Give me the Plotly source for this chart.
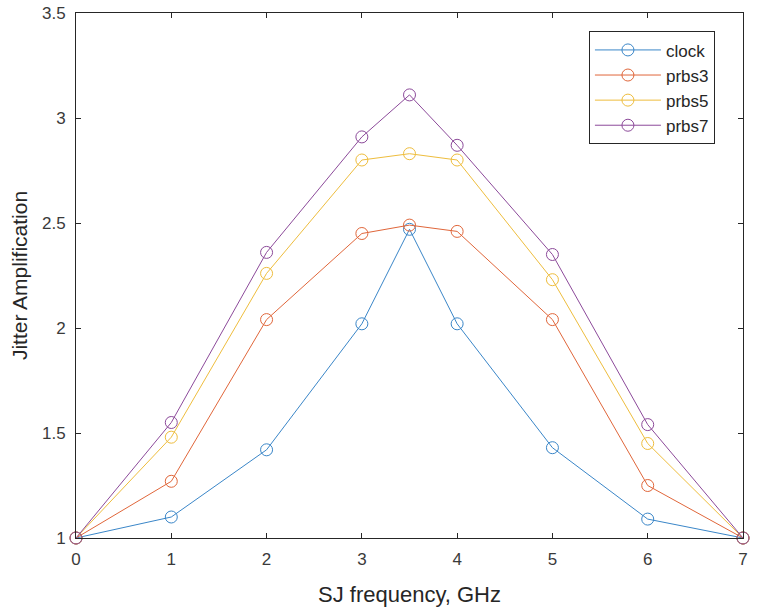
import plotly.graph_objects as go

# SJ frequency sweep (GHz) and measured jitter amplification per pattern
freq_ghz = [0, 1, 2, 3, 3.5, 4, 5, 6, 7]
clock = [1.00, 1.10, 1.42, 2.02, 2.47, 2.02, 1.43, 1.09, 1.00]
prbs3 = [1.00, 1.27, 2.04, 2.45, 2.49, 2.46, 2.04, 1.25, 1.00]
prbs5 = [1.00, 1.48, 2.26, 2.80, 2.83, 2.80, 2.23, 1.45, 1.00]
prbs7 = [1.00, 1.55, 2.36, 2.91, 3.11, 2.87, 2.35, 1.54, 1.00]

series_names = ["clock", "prbs3", "prbs5", "prbs7"]
series_values = [clock, prbs3, prbs5, prbs7]
series_colors = ["#3a86c8", "#e0663a", "#eebd3d", "#8c4a9a"]

x_ticks = [0, 1, 2, 3, 4, 5, 6, 7]
y_ticks = [1, 1.5, 2, 2.5, 3, 3.5]
y_tick_text = ["1", "1.5", "2", "2.5", "3", "3.5"]

FONT = "Liberation Sans, Arial, sans-serif"

fig = go.Figure()
for name, vals, col in zip(series_names, series_values, series_colors):
    fig.add_trace(go.Scatter(
        x=freq_ghz, y=vals, name=name, mode="lines+markers",
        line=dict(color=col, width=1),
        marker=dict(symbol="circle-open", size=12, color=col, line=dict(width=1)),
        cliponaxis=False,
    ))

axis_common = dict(
    showline=True, linecolor="#262626", linewidth=1, mirror="ticks",
    ticks="inside", ticklen=5, tickcolor="#262626",
    showgrid=False, zeroline=False, automargin=False,
    tickfont=dict(family=FONT, size=17, color="#3a3a3a"),
)

fig.update_layout(
    width=760, height=613,
    margin=dict(l=76, r=17, t=13, b=75),
    paper_bgcolor="white", plot_bgcolor="white",
    font=dict(family=FONT, color="#262626"),
    xaxis=dict(range=[0, 7], tickvals=x_ticks, ticklabelstandoff=6, **axis_common,
               title=dict(text="SJ frequency, GHz", font=dict(size=22, color="#262626"), standoff=18)),
    yaxis=dict(range=[1, 3.5], tickvals=y_ticks, ticktext=y_tick_text, ticklabelstandoff=6, **axis_common,
               title=dict(text="Jitter Amplification", font=dict(size=21, color="#262626"), standoff=8)),
    legend=dict(
        x=0.769, y=0.965, xanchor="left", yanchor="top",
        bgcolor="white", bordercolor="#262626", borderwidth=1,
        font=dict(family=FONT, size=17, color="#262626"),
        itemwidth=66, tracegroupgap=0,
    ),
    showlegend=True,
)

fig.write_html("out.html")
